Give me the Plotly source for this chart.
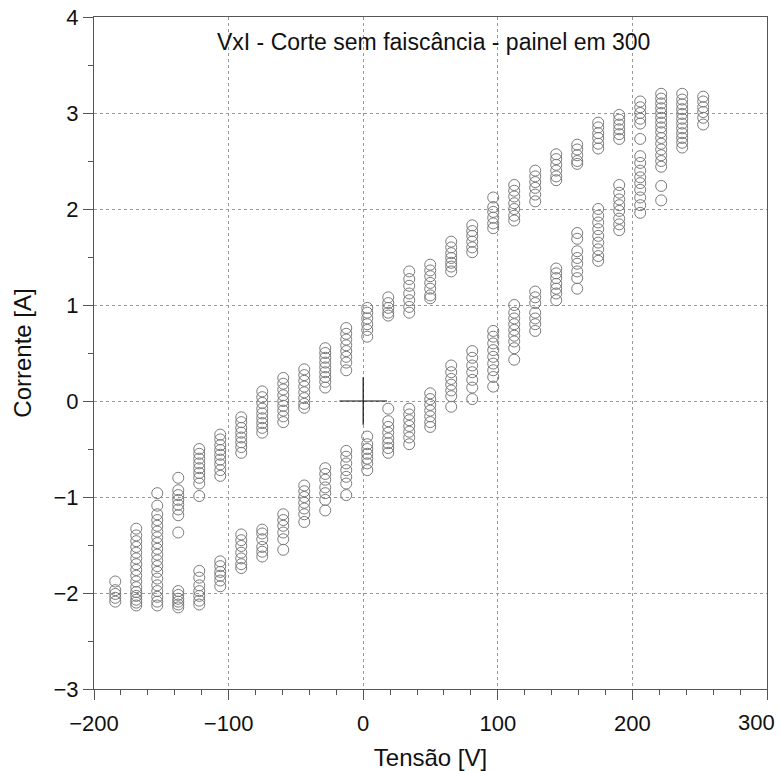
import plotly.graph_objects as go

# Column voltages [V]
tensao = [-184.2, -168.6, -153.0, -137.4, -121.8, -106.2, -90.6, -75.0, -59.4, -43.8,
          -28.2, -12.6, 3.0, 18.6, 34.2, 49.8, 65.4, 81.0, 96.6, 112.2, 127.8, 143.4,
          159.0, 174.6, 190.2, 205.8, 221.4, 237.0, 252.6]

# Upper branch currents [A] per column
corrente_sup = [
    [],
    [],
    [],
    [-0.80, -0.93, -0.98, -1.03, -1.08, -1.13, -1.19, -1.37],
    [-0.50, -0.55, -0.60, -0.65, -0.70, -0.75, -0.80, -0.86, -0.99],
    [-0.35, -0.40, -0.46, -0.51, -0.56, -0.61, -0.66, -0.72, -0.78],
    [-0.17, -0.22, -0.28, -0.33, -0.38, -0.43, -0.48, -0.54],
    [0.10, 0.04, -0.02, -0.08, -0.13, -0.18, -0.23, -0.28, -0.33],
    [0.24, 0.18, 0.12, 0.06, 0.00, -0.05, -0.10, -0.16, -0.22],
    [0.33, 0.27, 0.21, 0.15, 0.09, 0.03, -0.03, -0.07],
    [0.55, 0.50, 0.45, 0.40, 0.35, 0.30, 0.25, 0.20, 0.14],
    [0.76, 0.70, 0.64, 0.58, 0.52, 0.46, 0.40, 0.32],
    [0.97, 0.92, 0.86, 0.80, 0.74, 0.67],
    [1.08, 1.02, 0.97, 0.92, 0.89],
    [1.35, 1.27, 1.20, 1.12, 1.05, 0.98, 0.92],
    [1.42, 1.36, 1.30, 1.23, 1.17, 1.10, 1.07],
    [1.66, 1.60, 1.54, 1.49, 1.44, 1.40, 1.35],
    [1.83, 1.77, 1.72, 1.66, 1.60, 1.55],
    [2.12, 2.02, 1.97, 1.91, 1.85, 1.80],
    [2.25, 2.19, 2.13, 2.06, 2.00, 1.93, 1.88],
    [2.40, 2.34, 2.28, 2.22, 2.15, 2.08],
    [2.57, 2.52, 2.46, 2.40, 2.34, 2.30],
    [2.67, 2.62, 2.56, 2.50, 2.47],
    [2.90, 2.85, 2.79, 2.74, 2.68, 2.63],
    [2.98, 2.93, 2.88, 2.83, 2.78, 2.73],
    [3.12, 3.06, 3.00, 2.94, 2.89, 2.73],
    [3.20, 3.15, 3.10, 3.05, 3.00, 2.95, 2.90, 2.85, 2.80, 2.74, 2.68, 2.62, 2.56,
     2.50, 2.44, 2.24, 2.09],
    [3.20, 3.14, 3.09, 3.04, 2.99, 2.94, 2.89, 2.84, 2.79, 2.74, 2.69, 2.64],
    [3.17, 3.12, 3.06, 3.01, 2.95, 2.88],
]

# Lower branch currents [A] per column
corrente_inf = [
    [-1.88, -1.97, -2.01, -2.05, -2.09],
    [-1.33, -1.40, -1.46, -1.52, -1.58, -1.64, -1.70, -1.76, -1.82, -1.88, -1.94,
     -1.99, -2.03, -2.07, -2.10, -2.13],
    [-0.96, -1.09, -1.18, -1.24, -1.30, -1.36, -1.42, -1.48, -1.54, -1.60, -1.66,
     -1.72, -1.78, -1.85, -1.92, -1.98, -2.04, -2.09, -2.13],
    [-1.98, -2.02, -2.06, -2.09, -2.12, -2.15],
    [-1.77, -1.84, -1.92, -1.98, -2.03, -2.08, -2.12],
    [-1.67, -1.72, -1.78, -1.82, -1.87, -1.93],
    [-1.39, -1.45, -1.51, -1.58, -1.64, -1.70, -1.74],
    [-1.34, -1.38, -1.44, -1.52, -1.57, -1.62],
    [-1.18, -1.24, -1.30, -1.37, -1.44, -1.55],
    [-0.88, -0.94, -1.00, -1.06, -1.12, -1.18, -1.26],
    [-0.70, -0.76, -0.82, -0.90, -0.96, -1.03, -1.14],
    [-0.52, -0.58, -0.65, -0.72, -0.79, -0.86, -0.98],
    [-0.37, -0.45, -0.50, -0.55, -0.60, -0.65, -0.72],
    [-0.08, -0.21, -0.27, -0.33, -0.39, -0.44, -0.49, -0.54],
    [-0.08, -0.14, -0.20, -0.26, -0.32, -0.38, -0.45],
    [0.08, 0.02, -0.04, -0.10, -0.16, -0.22, -0.27],
    [0.37, 0.30, 0.23, 0.17, 0.11, 0.05, -0.06],
    [0.52, 0.45, 0.37, 0.30, 0.22, 0.14, 0.02],
    [0.73, 0.67, 0.60, 0.53, 0.46, 0.39, 0.32, 0.25, 0.15],
    [1.00, 0.92, 0.86, 0.80, 0.74, 0.68, 0.62, 0.55, 0.43],
    [1.14, 1.08, 1.02, 0.92, 0.86, 0.80, 0.73],
    [1.38, 1.33, 1.28, 1.22, 1.17, 1.12, 1.05],
    [1.75, 1.69, 1.56, 1.49, 1.43, 1.35, 1.28, 1.17],
    [2.00, 1.93, 1.86, 1.79, 1.72, 1.65, 1.58, 1.51, 1.46],
    [2.25, 2.17, 2.10, 2.04, 1.98, 1.90, 1.84, 1.78],
    [2.55, 2.48, 2.40, 2.33, 2.27, 2.20, 2.12, 2.04, 1.96],
    [],
    [],
    [],
]

x_ticks = [-200, -100, 0, 100, 200, 300]
x_ticklabels = ["\u2212200", "\u2212100", "0", "100", "200", ""]
y_ticks = [-3, -2, -1, 0, 1, 2, 3, 4]

titulo = "VxI - Corte sem faiscância - painel em 300"
FONT = "Liberation Sans, Arial, sans-serif"

xs, ys = [], []
for v, sup, inf in zip(tensao, corrente_sup, corrente_inf):
    for c in sup + inf:
        xs.append(v)
        ys.append(c)

fig = go.Figure()
fig.add_trace(go.Scatter(
    x=xs, y=ys, mode="markers",
    marker=dict(symbol="circle-open", size=11, color="#7a7a7a",
                line=dict(width=1, color="#7a7a7a")),
    showlegend=False, hoverinfo="skip",
))
# Crosshair at origin
fig.add_trace(go.Scatter(
    x=[0], y=[0], mode="markers",
    marker=dict(symbol="cross-thin-open", size=34, color="#111",
                line=dict(width=1.2, color="#111")),
    showlegend=False, hoverinfo="skip",
))

axis_common = dict(
    showline=True, linecolor="#555", linewidth=1, mirror=True,
    ticks="outside", ticklen=10, tickwidth=1, tickcolor="#555",
    showgrid=True, gridcolor="#999999", gridwidth=1, griddash="dot",
    zeroline=False, automargin=False,
    tickfont=dict(size=22, color="#111", family=FONT),
)

fig.update_xaxes(
    range=[-200, 300], tickvals=x_ticks, ticktext=x_ticklabels,
    ticklabelstandoff=5,
    minor=dict(ticks="outside", ticklen=5, tickcolor="#555", dtick=20, showgrid=False),
    title=dict(text="Tensão [V]", font=dict(size=24, color="#111", family=FONT), standoff=14),
    **axis_common,
)
fig.update_yaxes(
    range=[-3, 4], tickvals=y_ticks,
    minor=dict(ticks="outside", ticklen=5, tickcolor="#555", dtick=0.5, showgrid=False),
    title=dict(text="Corrente [A]", font=dict(size=24, color="#111", family=FONT), standoff=15),
    **axis_common,
)

# Last x tick label, shifted inward as in the reference
fig.add_annotation(
    text=str(x_ticks[-1]), xref="x", yref="paper", x=x_ticks[-1], y=0,
    xanchor="center", yanchor="top", yshift=-19, xshift=-11, showarrow=False,
    font=dict(size=22, color="#111", family=FONT),
)

fig.add_annotation(
    text=titulo, xref="paper", yref="paper", x=0.505, y=0.963,
    xanchor="center", yanchor="middle", showarrow=False,
    font=dict(size=23, color="#111", family=FONT),
)

fig.update_layout(
    width=780, height=771,
    margin=dict(l=94, r=13, t=17, b=82),
    paper_bgcolor="white", plot_bgcolor="white",
    font=dict(family=FONT, color="#111"),
)

fig.write_html("out.html")
